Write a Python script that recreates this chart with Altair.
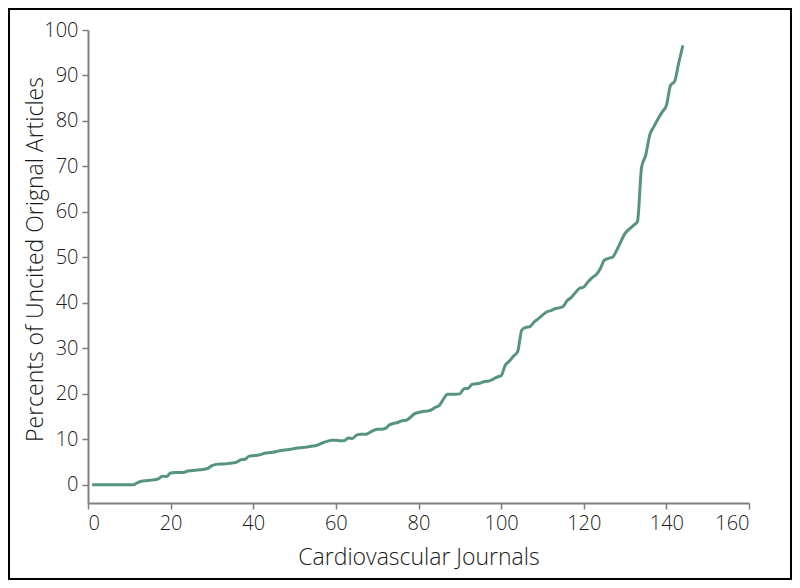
import altair as alt
import pandas as pd

journals = list(range(1, 145))
uncited = [
    0, 0, 0, 0, 0, 0, 0, 0, 0, 0,
    0, 0.5, 0.8, 0.9, 1.0, 1.1, 1.3, 1.9, 1.8, 2.6,
    2.7, 2.7, 2.7, 3.0, 3.1, 3.2, 3.3, 3.4, 3.6, 4.2,
    4.5, 4.6, 4.6, 4.7, 4.8, 5.0, 5.5, 5.6, 6.3, 6.4,
    6.5, 6.7, 7.0, 7.1, 7.2, 7.4, 7.6, 7.7, 7.8, 8.0,
    8.1, 8.2, 8.3, 8.5, 8.6, 8.9, 9.3, 9.6, 9.8, 9.8,
    9.7, 9.7, 10.3, 10.2, 10.9, 11.1, 11.1, 11.4, 11.9, 12.2,
    12.2, 12.4, 13.2, 13.5, 13.7, 14.1, 14.2, 14.8, 15.6, 15.9,
    16.1, 16.2, 16.4, 17.0, 17.4, 18.8, 19.9, 19.9, 19.9, 20.0,
    21.1, 21.2, 22.1, 22.2, 22.4, 22.7, 22.8, 23.2, 23.7, 24.0,
    26.3, 27.2, 28.3, 29.3, 34.0, 34.6, 34.8, 35.8, 36.5, 37.3,
    38.0, 38.3, 38.7, 38.9, 39.2, 40.5, 41.2, 42.3, 43.2, 43.5,
    44.6, 45.5, 46.2, 47.5, 49.4, 49.8, 50.1, 51.6, 53.5, 55.3,
    56.2, 57.0, 57.9, 69.8, 72.5, 77.0, 78.8, 80.5, 82.0, 83.4,
    87.8, 88.7, 92.8, 96.6,
]
x_ticks = [0, 20, 40, 60, 80, 100, 120, 140, 160]
y_ticks = [0, 10, 20, 30, 40, 50, 60, 70, 80, 90, 100]

df = pd.DataFrame({"journal": journals, "pct": uncited})

W, H = 661, 473
PL, PT, PR, PB = 80, 22, 43, 77

line = alt.Chart(df).mark_line(
    color="#56957c", strokeWidth=3, interpolate="monotone"
).encode(
    x=alt.X("journal:Q", scale=alt.Scale(domain=[0, 160], nice=False),
            axis=alt.Axis(values=x_ticks, title="Cardiovascular Journals",
                          titleBaseline="alphabetic", titleY=61, labelPadding=4)),
    y=alt.Y("pct:Q", scale=alt.Scale(domain=[-4, 100], nice=False, zero=False),
            axis=alt.Axis(values=y_ticks, title="Percents of Uncited Orignal Articles",
                          titleBaseline="alphabetic", titleX=-46, titleY=229,
                          titleAlign="center", labelPadding=4)),
)

frame = alt.Chart(alt.Data(values=[{"a": 1}])).mark_rect(
    fill=None, stroke="black", strokeWidth=2
).encode(
    x=alt.value(-PL + 1), x2=alt.value(W + PR - 1),
    y=alt.value(-PT + 1), y2=alt.value(H + PB - 1),
)

chart = alt.layer(line, frame).properties(
    width=W, height=H,
    autosize=alt.AutoSizeParams(type="none"),
    padding={"left": PL, "top": PT, "right": PR, "bottom": PB},
).configure_view(stroke=None).configure_axis(
    grid=False,
    domainColor="#7f7f7f", domainWidth=2,
    tickColor="#7f7f7f", tickWidth=1.5, tickSize=6,
    labelFont="Open Sans", labelFontSize=20, labelFontWeight=300, labelColor="#1a1a1a",
    titleFont="Open Sans", titleFontSize=23, titleFontWeight=300, titleColor="#1a1a1a",
)

chart.save("out.html", embed_options={"renderer": "svg", "actions": False})
